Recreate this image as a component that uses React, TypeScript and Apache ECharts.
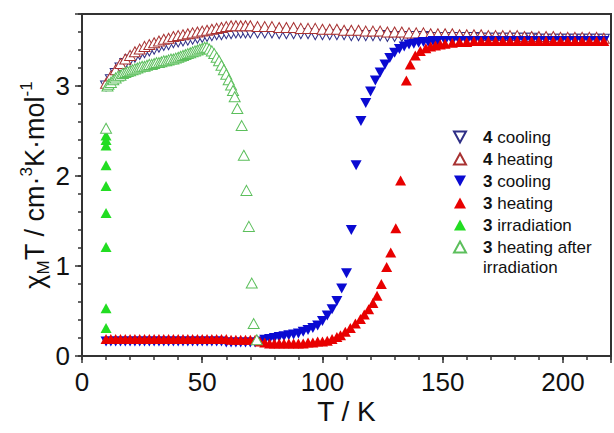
import React, { useEffect, useRef } from 'react';
import * as echarts from 'echarts';

const FONT = '"Liberation Sans", Arial, Helvetica, sans-serif';

// [T (K), chi_M T (cm3 K mol-1)]
const cooling4: [number, number][] = [
  [10, 3.0], [12, 3.07], [14, 3.14], [16, 3.2], [18, 3.25], [20, 3.29], [22, 3.32], [24, 3.35], [26, 3.37], [28, 3.39],
  [30, 3.41], [32, 3.43], [34, 3.45], [36, 3.46], [38, 3.48], [40, 3.49], [42, 3.5], [44, 3.51], [46, 3.52], [48, 3.53],
  [50, 3.54], [52, 3.55], [54, 3.56], [56, 3.57], [58, 3.57], [60, 3.58], [62, 3.58], [64, 3.59], [66, 3.59], [68, 3.59],
  [70, 3.59], [73, 3.59], [76, 3.59], [79, 3.59], [82, 3.58], [85, 3.58], [88, 3.58], [91, 3.58], [94, 3.58], [97, 3.57],
  [100, 3.57], [103, 3.57], [106, 3.57], [109, 3.57], [112, 3.56], [115, 3.56], [118, 3.56], [121, 3.56], [124, 3.56],
  [127, 3.55], [130, 3.55], [133, 3.55], [136, 3.55], [139, 3.55], [142, 3.55], [145, 3.54], [148, 3.54], [151, 3.54],
  [154, 3.54], [157, 3.54], [160, 3.54], [163, 3.54], [166, 3.53], [169, 3.53], [172, 3.53], [175, 3.53], [178, 3.53],
  [181, 3.53], [184, 3.53], [187, 3.53], [190, 3.52], [193, 3.52], [196, 3.52], [199, 3.52], [202, 3.52], [205, 3.52],
  [208, 3.52], [211, 3.52], [214, 3.52], [217, 3.52],
];

const heating4: [number, number][] = [
  [10, 3.03], [12, 3.11], [14, 3.18], [16, 3.25], [18, 3.3], [20, 3.34], [22, 3.38], [24, 3.41], [26, 3.44], [28, 3.46],
  [30, 3.48], [32, 3.5], [34, 3.52], [36, 3.53], [38, 3.55], [40, 3.56], [42, 3.57], [44, 3.58], [46, 3.59], [48, 3.6],
  [50, 3.61], [52, 3.62], [54, 3.63], [56, 3.64], [58, 3.65], [60, 3.66], [62, 3.67], [64, 3.67], [66, 3.67], [68, 3.67],
  [70, 3.67], [73, 3.66], [76, 3.66], [79, 3.66], [82, 3.65], [85, 3.65], [88, 3.65], [91, 3.64], [94, 3.64], [97, 3.64],
  [100, 3.63], [103, 3.63], [106, 3.63], [109, 3.62], [112, 3.62], [115, 3.62], [118, 3.61], [121, 3.61], [124, 3.61],
  [127, 3.6], [130, 3.6], [133, 3.6], [136, 3.59], [139, 3.59], [142, 3.59], [145, 3.58], [148, 3.58], [151, 3.58],
  [154, 3.58], [157, 3.57], [160, 3.57], [163, 3.57], [166, 3.57], [169, 3.56], [172, 3.56], [175, 3.56], [178, 3.56],
  [181, 3.56], [184, 3.55], [187, 3.55], [190, 3.55], [193, 3.55], [196, 3.55], [199, 3.54], [202, 3.54], [205, 3.54],
  [208, 3.54], [211, 3.54], [214, 3.54], [217, 3.53],
];

const cooling3: [number, number][] = [
  [10, 0.16], [12, 0.16], [14, 0.16], [16, 0.16], [18, 0.16], [20, 0.16], [22, 0.16], [24, 0.16], [26, 0.16], [28, 0.16],
  [30, 0.16], [32, 0.16], [34, 0.16], [36, 0.16], [38, 0.16], [40, 0.16], [42, 0.16], [44, 0.16], [46, 0.16], [48, 0.16],
  [50, 0.16], [52, 0.16], [54, 0.16], [56, 0.16], [58, 0.16], [60, 0.15], [62, 0.15], [64, 0.15], [66, 0.15], [68, 0.15],
  [70, 0.15], [72, 0.15], [74, 0.16], [76, 0.18], [78, 0.19], [80, 0.2], [82, 0.21], [84, 0.22], [86, 0.23], [88, 0.24],
  [90, 0.25], [92, 0.27], [94, 0.29], [96, 0.31], [98, 0.34], [100, 0.39], [102, 0.45], [104, 0.52], [106, 0.61],
  [108, 0.75], [110, 0.92], [112, 1.4], [114, 2.12], [116, 2.61], [118, 2.81], [120, 2.94], [122, 3.06], [124, 3.15],
  [126, 3.24], [128, 3.31], [130, 3.37], [132, 3.41], [134, 3.44], [136, 3.46], [138, 3.47], [140, 3.48], [142, 3.49],
  [144, 3.49], [146, 3.5], [148, 3.5], [151, 3.5], [154, 3.5], [157, 3.5], [160, 3.5], [163, 3.5], [166, 3.5], [169, 3.5],
  [172, 3.5], [175, 3.5], [178, 3.5], [181, 3.5], [184, 3.5], [187, 3.5], [190, 3.5], [193, 3.5], [196, 3.5], [199, 3.5],
  [202, 3.5], [205, 3.5], [208, 3.5], [211, 3.5], [214, 3.5], [217, 3.5],
];

const heating3: [number, number][] = [
  [10, 0.19], [12, 0.19], [14, 0.19], [16, 0.19], [18, 0.19], [20, 0.19], [22, 0.19], [24, 0.19], [26, 0.19], [28, 0.19],
  [30, 0.19], [32, 0.19], [34, 0.19], [36, 0.19], [38, 0.19], [40, 0.19], [42, 0.19], [44, 0.19], [46, 0.19], [48, 0.19],
  [50, 0.19], [52, 0.19], [54, 0.19], [56, 0.19], [58, 0.19], [60, 0.19], [62, 0.18], [64, 0.18], [66, 0.18], [68, 0.18],
  [70, 0.18], [72, 0.18], [74, 0.16], [76, 0.15], [78, 0.14], [80, 0.14], [82, 0.14], [84, 0.14], [86, 0.14], [88, 0.14],
  [90, 0.14], [92, 0.14], [94, 0.15], [96, 0.15], [98, 0.16], [100, 0.16], [102, 0.17], [104, 0.19], [106, 0.21],
  [107.5, 0.23], [109.5, 0.27], [111.6, 0.31], [113.7, 0.36], [115.8, 0.41], [117.4, 0.46], [119.2, 0.52], [121, 0.59],
  [122.7, 0.67], [124.5, 0.8], [126.7, 0.99], [128.4, 1.15], [130.5, 1.42], [132.5, 1.95], [134.9, 3.06], [136.5, 3.24],
  [138.6, 3.34], [140.7, 3.39], [143, 3.42], [145, 3.44], [147, 3.45], [149, 3.46], [151, 3.47], [154, 3.48], [157, 3.49],
  [160, 3.49], [163, 3.5], [166, 3.5], [169, 3.5], [172, 3.5], [175, 3.5], [178, 3.5], [181, 3.5], [184, 3.5], [187, 3.5],
  [190, 3.5], [193, 3.5], [196, 3.5], [199, 3.5], [202, 3.5], [205, 3.5], [208, 3.5], [211, 3.5], [214, 3.5], [217, 3.5],
];

const irradiation3: [number, number][] = [
  [10, 0.31], [10, 0.53], [10, 1.21], [10, 1.59], [10, 1.89], [10, 2.12], [10, 2.34], [10, 2.4], [10, 2.45],
];

const heatingAfter3: [number, number][] = [
  [10, 2.53], [10.6, 3.0], [11, 3.02], [12, 3.04], [13, 3.07], [14, 3.09], [15, 3.11], [16, 3.12], [17, 3.14], [18, 3.15],
  [19, 3.16], [20, 3.17], [21, 3.18], [22, 3.19], [23, 3.2], [24, 3.21], [25, 3.22], [26, 3.22], [27, 3.23], [28, 3.24],
  [29, 3.24], [30, 3.25], [31, 3.26], [32, 3.26], [33, 3.27], [34, 3.28], [35, 3.28], [36, 3.29], [37, 3.3], [38, 3.3],
  [39, 3.31], [40, 3.32], [41, 3.33], [42, 3.34], [43, 3.35], [44, 3.36], [45, 3.37], [46, 3.38], [47, 3.39], [48, 3.4],
  [49, 3.41], [50, 3.42], [51, 3.43], [52, 3.43], [53, 3.41], [54, 3.39], [55, 3.36], [56, 3.32], [57, 3.28], [58, 3.23],
  [59, 3.18], [60, 3.13], [61, 3.07], [62, 3.01], [62.8, 2.95], [63.5, 2.88], [64.6, 2.75], [66.4, 2.56], [67.3, 2.23],
  [68.4, 1.84], [69.4, 1.44], [70.6, 0.81], [71.4, 0.36], [72.7, 0.18],
];

const seriesNames = ['4 cooling', '4 heating', '3 cooling', '3 heating', '3 irradiation', '3 heating after irradiation'];
const xTickLabels = [0, 50, 100, 150, 200];
const yTickLabels = [0, 1, 2, 3];

const DOWN = 'path://M0,0L10,0L5,9Z';

export default function App() {
  const ref = useRef<HTMLDivElement>(null);
  useEffect(() => {
    if (!ref.current) return;
    const chart = echarts.init(ref.current, undefined, { renderer: 'svg' });
    const axisColor = '#333';
    const tickStyle = { color: axisColor, width: 1.5 };
    const mk = (name: string, data: [number, number][], symbol: string, fill: string, stroke: string) => ({
      name,
      type: 'scatter',
      data,
      symbol,
      symbolSize: [11, 10],
      xAxisIndex: 0,
      yAxisIndex: 0,
      silent: true,
      itemStyle: { color: fill, borderColor: stroke, borderWidth: fill === '#fff' ? 1 : 0, opacity: 1 },
    });
    const option: any = {
      animation: false,
      backgroundColor: '#fff',
      textStyle: { fontFamily: FONT },
      grid: { left: 82, right: 2, top: 14, bottom: 77, show: true, borderColor: axisColor, borderWidth: 2 },
      xAxis: [
        {
          type: 'value', min: 0, max: 220, interval: 10, position: 'bottom',
          axisLine: { show: true, onZero: false, lineStyle: { color: axisColor, width: 2 } },
          axisTick: { show: true, length: 4, lineStyle: tickStyle },
          axisLabel: { show: false },
          splitLine: { show: false },
          name: 'T / K', nameLocation: 'middle', nameGap: 41,
          nameTextStyle: { fontFamily: FONT, fontSize: 28, color: '#111' },
        },
        {
          type: 'value', min: 0, max: 220, interval: 50, position: 'bottom',
          axisLine: { show: false },
          axisTick: { show: true, length: 7, lineStyle: tickStyle },
          axisLabel: {
            show: true, fontFamily: FONT, fontSize: 26, color: '#111', margin: 13,
            formatter: (v: number) => (xTickLabels.includes(v) ? String(v) : ''),
          },
          splitLine: { show: false },
        },
      ],
      yAxis: [
        {
          type: 'value', min: 0, max: 3.8, interval: 0.2, position: 'left',
          axisLine: { show: true, onZero: false, lineStyle: { color: axisColor, width: 2 } },
          axisTick: { show: true, length: 4, lineStyle: tickStyle },
          axisLabel: { show: false },
          splitLine: { show: false },
          name: '{a|χ}{sub|M}{a|T / cm}{a|·}{sup|3}{a|K·mol}{sup|-1}',
          nameLocation: 'middle', nameRotate: 90, nameGap: 30,
          nameTextStyle: {
            fontFamily: FONT, color: '#111',
            rich: {
              a: { fontFamily: FONT, fontSize: 27, lineHeight: 34, color: '#111' },
              sub: { fontFamily: FONT, fontSize: 17, lineHeight: 20, verticalAlign: 'bottom', color: '#111' },
              sup: { fontFamily: FONT, fontSize: 17, lineHeight: 24, verticalAlign: 'top', color: '#111' },
            },
          },
        },
        {
          type: 'value', min: 0, max: 3.8, interval: 1, position: 'left',
          axisLine: { show: false },
          axisTick: { show: true, length: 7, lineStyle: tickStyle },
          axisLabel: {
            show: true, fontFamily: FONT, fontSize: 26, color: '#111', margin: 12,
            formatter: (v: number) => (yTickLabels.includes(v) ? String(v) : ''),
          },
          splitLine: { show: false },
        },
      ],
      legend: {
        show: true,
        orient: 'vertical',
        left: 453,
        top: 126,
        padding: 0,
        itemGap: 0,
        itemWidth: 12,
        itemHeight: 11,
        selectedMode: false,
        data: seriesNames,
        formatter: (name: string) => {
          const parts = name.split(' ');
          const num = parts[0];
          let rest = parts.slice(1).join(' ');
          if (rest === 'heating after irradiation') rest = 'heating after';
          return `{s|\u00a0}{b|${num}}{n| ${rest}}`;
        },
        textStyle: {
          fontFamily: FONT, fontSize: 17, color: '#111', lineHeight: 22,
          rich: {
            s: { width: 12, fontSize: 17, lineHeight: 22 },
            b: { fontFamily: FONT, fontWeight: 'bold', fontSize: 17, lineHeight: 22, color: '#111' },
            n: { fontFamily: FONT, fontSize: 17, lineHeight: 22, color: '#111' },
          },
        },
      },
      graphic: [
        {
          type: 'text', left: 483, top: 259,
          style: { text: 'irradiation', fontFamily: FONT, fontSize: 17, fill: '#111' },
        },
      ],
      series: [
        mk(seriesNames[0], cooling4, DOWN, '#fff', '#2e2e86'),
        mk(seriesNames[1], heating4, 'triangle', '#fff', '#a83232'),
        mk(seriesNames[2], cooling3, DOWN, '#0a0ad2', '#0a0ad2'),
        mk(seriesNames[3], heating3, 'triangle', '#e80000', '#e80000'),
        mk(seriesNames[4], irradiation3, 'triangle', '#22dd22', '#22dd22'),
        mk(seriesNames[5], heatingAfter3, 'triangle', '#fff', '#5cbf5c'),
      ],
    };
    chart.setOption(option);
    return () => chart.dispose();
  }, []);
  return (
    <div
      ref={ref}
      style={{ position: 'fixed', left: 0, top: 0, width: 614, height: 433, background: '#fff' }}
    />
  );
}
